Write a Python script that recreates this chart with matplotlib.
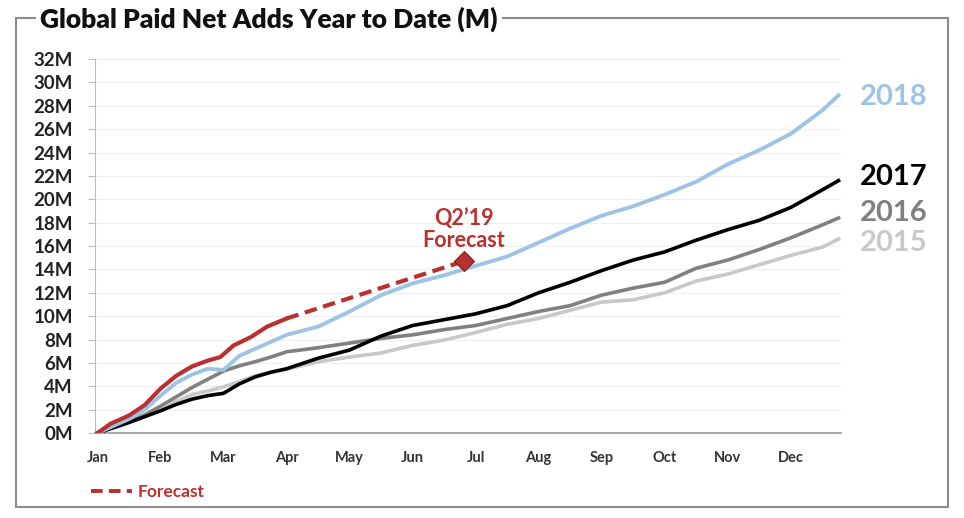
import matplotlib
matplotlib.use("Agg")
import matplotlib.pyplot as plt
from matplotlib.lines import Line2D
from matplotlib.patches import Rectangle

plt.rcParams['font.family'] = ['Lato', 'DejaVu Sans']

months = ["Jan", "Feb", "Mar", "Apr", "May", "Jun",
          "Jul", "Aug", "Sep", "Oct", "Nov", "Dec"]

# x in months since Jan 1
x_all = [0, 0.25, 0.5, 0.75, 1.0, 1.25, 1.5, 1.75, 2.0, 2.25, 2.5, 2.75, 3.0,
         3.5, 4.0, 4.5, 5.0, 5.5, 6.0, 6.5, 7.0, 7.5, 8.0, 8.5, 9.0, 9.5,
         10.0, 10.5, 11.0, 11.5, 11.76]

y2015 = [0, 0.45, 0.95, 1.45, 1.95, 2.7, 3.3, 3.6, 3.95, 4.4, 4.9, 5.2, 5.45,
         6.1, 6.5, 6.85, 7.5, 7.95, 8.6, 9.3, 9.8, 10.5, 11.2, 11.4, 12.0, 13.0,
         13.6, 14.4, 15.2, 15.9, 16.6]
y2016 = [0, 0.5, 1.0, 1.55, 2.3, 3.1, 3.9, 4.6, 5.3, 5.75, 6.1, 6.5, 6.95,
         7.3, 7.7, 8.1, 8.4, 8.85, 9.2, 9.8, 10.4, 10.9, 11.8, 12.4, 12.9, 14.1,
         14.8, 15.7, 16.7, 17.8, 18.4]
y2017 = [0, 0.45, 0.9, 1.4, 1.9, 2.45, 2.9, 3.2, 3.4, 4.2, 4.8, 5.2, 5.5,
         6.4, 7.1, 8.3, 9.2, 9.7, 10.2, 10.9, 12.0, 12.9, 13.9, 14.8, 15.5, 16.5,
         17.4, 18.2, 19.3, 20.8, 21.6]
y2018 = [0, 0.6, 1.2, 2.0, 3.2, 4.3, 5.0, 5.5, 5.4, 6.6, 7.2, 7.8, 8.4,
         9.1, 10.4, 11.8, 12.8, 13.5, 14.3, 15.1, 16.3, 17.5, 18.6, 19.4, 20.4, 21.5,
         23.0, 24.2, 25.6, 27.6, 28.9]

x2019 = [0, 0.21, 0.5, 0.75, 1.0, 1.25, 1.5, 1.75, 1.95, 2.16, 2.43, 2.69, 3.0]
y2019 = [0, 0.8, 1.5, 2.4, 3.8, 4.9, 5.7, 6.2, 6.5, 7.5, 8.2, 9.1, 9.8]

fc_x = [3.0, 5.81]
fc_y = [9.8, 14.7]

red = "#B8312F"
blue = "#9DC3E6"
dgray = "#808080"
lgray = "#C8C8C8"

fig = plt.figure(figsize=(9.64, 5.18), dpi=100)
ax = fig.add_axes([0.0985, 0.164, 0.774, 0.722])

for v in range(2, 33, 2):
    ax.axhline(v, color="#EFEFEF", lw=0.8, zorder=0)

ax.plot(x_all, y2015, color=lgray, lw=2.6, zorder=2)
ax.plot(x_all, y2016, color=dgray, lw=2.6, zorder=3)
ax.plot(x_all, y2017, color="black", lw=2.6, zorder=4)
ax.plot(x_all, y2018, color=blue, lw=2.8, zorder=5)
ax.plot(x2019, y2019, color=red, lw=3.0, zorder=6)
ax.plot(fc_x, fc_y, color=red, lw=3.0, ls=(0, (3, 1.6)), zorder=6)
ax.plot(fc_x[1], fc_y[1], marker="D", color=red, ms=10, mec="#8B1A1A", mew=0.8, zorder=7)

ax.text(fc_x[1], fc_y[1] + 0.9, "Q2\u201919\nForecast", color=red, fontsize=15.5,
        fontweight="bold", ha="center", va="bottom", linespacing=1.05)

labels = [("2018", 28.75, blue), ("2017", 21.9, "black"),
          ("2016", 18.8, dgray), ("2015", 16.3, lgray)]
for txt, yv, c in labels:
    ax.text(12.1, yv, txt, color=c, fontsize=21, fontweight="bold",
            ha="left", va="center", clip_on=False)

ax.set_xlim(-0.04, 11.8)
ax.set_ylim(0, 32)
ax.set_yticks(range(0, 33, 2))
ax.set_yticklabels([f"{v}M" for v in range(0, 33, 2)], fontsize=13.5,
                   fontweight="bold", color="#222222")
ax.set_xticks(range(12))
ax.set_xticklabels(months, fontsize=10.5, fontweight="bold", color="#333333")
ax.tick_params(axis="x", length=0, pad=13)
ax.tick_params(axis="y", length=5, color="#BBBBBB", pad=11)

for s in ["top", "right"]:
    ax.spines[s].set_visible(False)
ax.spines["left"].set_color("#BBBBBB")
ax.spines["bottom"].set_color("#999999")
ax.spines["bottom"].set_linewidth(1.2)

leg = ax.legend(handles=[Line2D([0], [0], color=red, lw=2.8, ls=(0, (3, 1.6)))],
                labels=["Forecast"], loc="lower left", bbox_to_anchor=(0.078, 0.005),
                bbox_transform=fig.transFigure, frameon=False, handlelength=2.4,
                handletextpad=0.3, labelcolor=red, prop={"weight": "bold", "size": 12.5})

# outer frame around the whole chart
fig.patches.append(Rectangle((16 / 964, 1 - 507 / 518), (948 - 16) / 964, (507 - 18) / 518,
                             transform=fig.transFigure, fill=False, ec="#8C8C8C", lw=1.5))
fig.text(40 / 964, 1 - 19 / 518, "Global Paid Net Adds Year to Date (M)", fontsize=19,
         fontweight="heavy", color="#111111", ha="left", va="center",
         bbox=dict(facecolor="white", edgecolor="none", pad=3))

fig.savefig("out.png", dpi=100)
